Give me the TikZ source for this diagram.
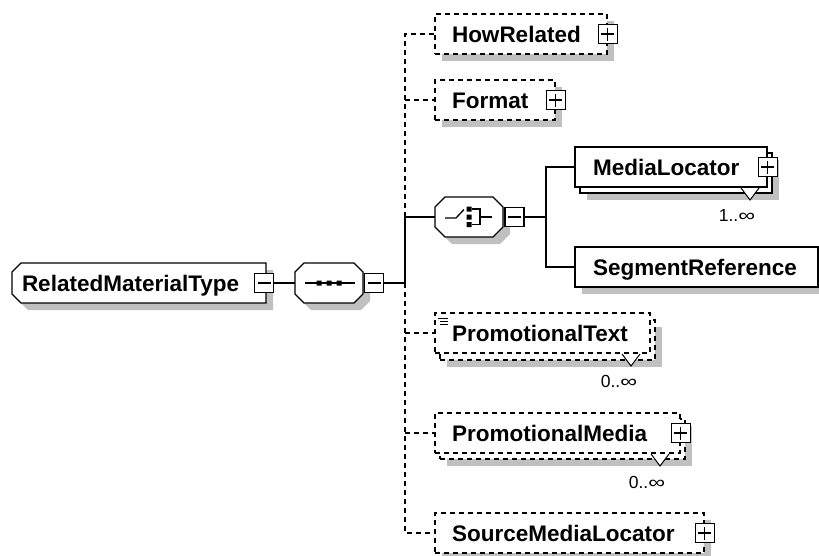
\documentclass[tikz,border=0pt]{standalone}
\usepackage{fontspec}
\setmainfont{Liberation Sans}
\usetikzlibrary{shadows}
\definecolor{sg}{RGB}{192,192,192}
\newcommand\elemfont{\fontsize{22.5}{26}\selectfont\bfseries}
\newcommand\multfont{\fontsize{17.5}{20}\selectfont}
\newcommand\infsym{\scalebox{1.35}[1]{∞}}
\newcommand\octshape[5]{(#1-#3/2+#5,#2-#4/2) -- (#1+#3/2-#5,#2-#4/2) -- (#1+#3/2,#2-#4/2+#5) -- (#1+#3/2,#2+#4/2-#5) -- (#1+#3/2-#5,#2+#4/2) -- (#1-#3/2+#5,#2+#4/2) -- (#1-#3/2,#2+#4/2-#5) -- (#1-#3/2,#2-#4/2+#5) -- cycle}
\newcommand\typeshape[5]{(#1+#5,#2) -- (#3,#2) -- (#3,#4) -- (#1+#5,#4) -- (#1,#4-#5) -- (#1,#2+#5) -- cycle}
\newcommand\plussign[1]{\draw[ln] ([xshift=-6.5pt]#1.center) -- ([xshift=6.5pt]#1.center) ([yshift=-6.5pt]#1.center) -- ([yshift=6.5pt]#1.center);}
\newcommand\minussign[1]{\draw[ln] ([xshift=-6.5pt]#1.center) -- ([xshift=6.5pt]#1.center);}
\begin{document}
\begin{tikzpicture}[x=1pt,y=-1pt,
  ln/.style={line width=1.3pt},
  dsh/.style={dash pattern=on 5pt off 4pt},
  shd/.style={drop shadow={shadow xshift=7pt, shadow yshift=-7pt, fill=sg, opacity=1}},
  ebox/.style={draw, ln, fill=white, minimum height=40pt, inner ysep=0pt, align=left,
    font=\elemfont, text height=16pt, text depth=0pt},
  tnode/.style={inner ysep=0pt, minimum height=40pt, align=left, font=\elemfont, text height=16pt, text depth=0pt},
  cnode/.style={inner sep=0pt, minimum width=68pt, minimum height=40pt},
  pm/.style={draw, ln, fill=white, minimum size=19pt, inner sep=0pt},
  mult/.style={font=\multfont, inner sep=0pt}]
\useasboundingbox (0,0) rectangle (819,555);

% ---- complex type box
\fill[sg, shift={(7,7)}] \typeshape{12}{263}{266}{303}{9};
\filldraw[ln, fill=white] \typeshape{12}{263}{266}{303}{9};
\node[tnode, text width=234pt, inner xsep=10pt] (type) at (139,283) {RelatedMaterialType};
\node[pm] (typepm) at (264,283) {};
\minussign{typepm}

% ---- sequence compositor
\fill[sg, shift={(7,7)}] \octshape{329}{283}{68}{40}{9};
\filldraw[ln, fill=white] \octshape{329}{283}{68}{40}{9};
\node[cnode] (seq) at (329,283) {};
\draw[ln] (305,283) -- (355,283);
\fill (316.5,280.5) rectangle +(5,5) (326.5,280.5) rectangle +(5,5) (336.5,280.5) rectangle +(5,5);
\node[pm] (seqpm) at (374,283) {};
\minussign{seqpm}
\coordinate (bus) at (405,283);

% ---- choice compositor
\fill[sg, shift={(7,7)}] \octshape{469}{217}{68}{40}{10};
\filldraw[ln, fill=white] \octshape{469}{217}{68}{40}{10};
\node[cnode] (choice) at (469,217) {};
\draw[ln] (445,218) -- (456,218) -- (464,209.5);
\fill (466.5,206.5) rectangle +(5,5) (466.5,214.5) rectangle +(5,5) (466.5,222) rectangle +(5,5);
\draw[ln] (471.5,209) -- (480,209) -- (480,224.5) -- (471.5,224.5) (480,217) -- (492,217);
\node[pm] (chpm) at (514.5,217) {};
\minussign{chpm}
\coordinate (cbus) at (546,217);

% ---- HowRelated
\node[ebox, dsh, shd, text width=138pt, inner xsep=17pt] (how) at (521,34) {HowRelated};
\node[pm] (howpm) at (how.east) {};
\plussign{howpm}

% ---- Format
\node[ebox, dsh, shd, text width=86pt, inner xsep=17pt] (fmt) at (495,100) {Format};
\node[pm] (fmtpm) at (fmt.east) {};
\plussign{fmtpm}

% ---- MediaLocator (1..inf)
\node[ebox, shd, minimum width=192pt] (mlocback) at (676,173) {};
\node[ebox, text width=156pt, inner xsep=18pt] (mloc) at (671,167) {MediaLocator};
\node[pm] (mlocpm) at (mloc.east) {};
\plussign{mlocpm}
\fill[white] (741,188) -- (750,200) -- (759,188) -- cycle;
\draw[line width=1pt] (741,188) -- (750,200) -- (759,188);
\node[mult] (mlocm) at (737,215) {1..\infsym};

% ---- SegmentReference
\node[ebox, shd, text width=207pt, inner xsep=18pt] (segref) at (696.5,267) {SegmentReference};

% ---- PromotionalText (0..inf)
\node[ebox, dsh, shd, minimum width=215pt] (ptextback) at (547.5,340) {};
\node[ebox, dsh, text width=181pt, inner xsep=17pt] (ptext) at (542.5,333) {PromotionalText};
\draw[line width=1pt] (438,318.5) -- (448,318.5) (440,321.5) -- (448,321.5) (440,324.5) -- (448,324.5);
\fill[white] (622,354) -- (631,366) -- (640,354) -- cycle;
\draw[line width=1pt] (622,354) -- (631,366) -- (640,354);
\node[mult] (ptextm) at (619,381) {0..\infsym};

% ---- PromotionalMedia (0..inf)
\node[ebox, dsh, shd, minimum width=245pt] (pmediaback) at (562.5,439) {};
\node[ebox, dsh, text width=211pt, inner xsep=17pt] (pmedia) at (557.5,433) {PromotionalMedia};
\node[pm] (pmediapm) at (pmedia.east) {};
\plussign{pmediapm}
\fill[white] (651,454) -- (660,466) -- (669,454) -- cycle;
\draw[line width=1pt] (651,454) -- (660,466) -- (669,454);
\node[mult] (pmediam) at (647,482) {0..\infsym};

% ---- SourceMediaLocator
\node[ebox, dsh, shd, text width=235pt, inner xsep=17pt] (smloc) at (569.5,533) {SourceMediaLocator};
\node[pm] (smlocpm) at (smloc.east) {};
\plussign{smlocpm}

% ---- connectors
\draw[ln] (typepm.east) -- (seq.west);
\draw[ln] (seqpm.east) -- (bus) -- (choice.west -| bus) -- (choice.west);
\draw[ln, dsh] (choice.west -| bus) -- (how.west -| bus) -- (how.west);
\draw[ln, dsh] (fmt.west -| bus) -- (fmt.west);
\draw[ln, dsh] (bus) -- (smloc.west -| bus) -- (smloc.west);
\draw[ln, dsh] (ptext.west -| bus) -- (ptext.west);
\draw[ln, dsh] (pmedia.west -| bus) -- (pmedia.west);
\draw[ln] (chpm.east) -- (cbus);
\draw[ln] (mloc.west) -- (mloc.west -| cbus) -- (segref.west -| cbus) -- (segref.west);
\end{tikzpicture}
\end{document}
